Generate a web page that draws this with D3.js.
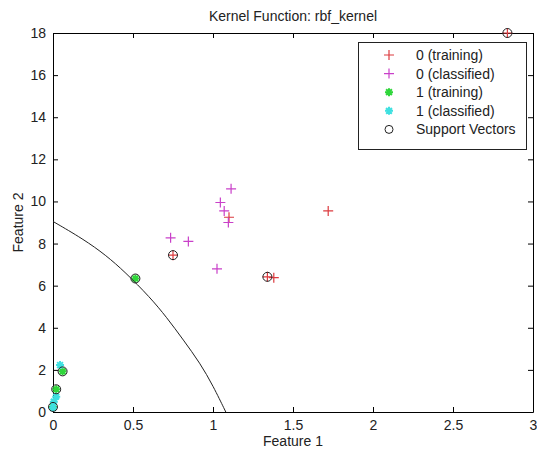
<!DOCTYPE html>
<html>
<head>
<meta charset="utf-8">
<script src="https://cdn.jsdelivr.net/npm/d3@7"></script>
<style>
  body { margin: 0; background: #fff; }
  svg { font-family: "Liberation Sans", Arial, sans-serif; }
</style>
</head>
<body>
<div id="root"></div>
<script>
// Data
const xTicks = [0, 0.5, 1, 1.5, 2, 2.5, 3];
const yTicks = [0, 2, 4, 6, 8, 10, 12, 14, 16, 18];

// group 0, training points (red +)
const train0 = [[2.84, 18.0], [1.72, 9.55], [0.75, 7.45], [1.34, 6.42], [1.38, 6.38], [1.1, 9.25]];
// group 0, classified points (magenta +)
const class0 = [[1.113, 10.6], [1.046, 9.95], [1.07, 9.55], [1.096, 9.0], [0.735, 8.27], [0.846, 8.1], [1.025, 6.8]];
// group 1, training points (green *)
const train1 = [[0.515, 6.34], [0.06, 1.93], [0.02, 1.08], [0.0, 0.24]];
// group 1, classified points (cyan *)
const class1 = [[0.044, 2.23], [0.02, 0.73], [0.005, 0.49], [0.0, 0.2]];
// support vectors (black o)
const supportVectors = [[2.84, 18.0], [0.75, 7.45], [1.34, 6.42], [0.515, 6.34], [0.06, 1.93], [0.02, 1.08], [0.0, 0.24]];
// decision boundary
const boundary = [[0.0, 9.05], [0.19, 8.21], [0.33, 7.45], [0.45, 6.65], [0.606, 5.45],
  [0.71, 4.5], [0.815, 3.42], [0.92, 2.31], [1.0, 1.25], [1.08, 0.0]];

const legendItems = [
  { label: '0 (training)', type: 'plus', color: '#dc3b3f' },
  { label: '0 (classified)', type: 'plus', color: '#c940c9' },
  { label: '1 (training)', type: 'star', color: '#2fd63a' },
  { label: '1 (classified)', type: 'star', color: '#3fe0e0' },
  { label: 'Support Vectors', type: 'circle', color: '#222' }
];

const width = 537, height = 455;
const margin = { left: 53, right: 4, top: 33, bottom: 43 };

const svg = d3.select('#root').append('svg')
  .attr('width', width)
  .attr('height', height)
  .attr('viewBox', [0, 0, width, height]);

const x = d3.scaleLinear().domain([0, 3]).range([margin.left, width - margin.right]);
const y = d3.scaleLinear().domain([0, 18]).range([height - margin.bottom, margin.top]);

// axes, with the ticks inside the box on all four sides
function drawAxes() {
  const tickSize = 5;
  const bottom = svg.append('g').attr('transform', `translate(0,${y(0)})`)
    .call(d3.axisBottom(x).tickValues(xTicks).tickSizeInner(-tickSize).tickSizeOuter(0).tickPadding(8).tickFormat(d3.format('')));
  const left = svg.append('g').attr('transform', `translate(${x(0)},0)`)
    .call(d3.axisLeft(y).tickValues(yTicks).tickSizeInner(-tickSize).tickSizeOuter(0).tickPadding(7));
  const top = svg.append('g').attr('transform', `translate(0,${y(18)})`)
    .call(d3.axisTop(x).tickValues(xTicks).tickSizeInner(-tickSize).tickSizeOuter(0).tickFormat(''));
  const right = svg.append('g').attr('transform', `translate(${x(3)},0)`)
    .call(d3.axisRight(y).tickValues(yTicks).tickSizeInner(-tickSize).tickSizeOuter(0).tickFormat(''));

  [bottom, left, top, right].forEach(function(g) {
    g.selectAll('path, line').attr('stroke', '#000');
    g.selectAll('text').attr('fill', '#222').attr('font-size', 14)
      .attr('font-family', '"Liberation Sans", Arial, sans-serif');
  });

  svg.append('text')
    .attr('x', (x(0) + x(3)) / 2).attr('y', 21)
    .attr('text-anchor', 'middle').attr('font-size', 14).attr('fill', '#222')
    .text('Kernel Function: rbf_kernel');
  svg.append('text')
    .attr('x', (x(0) + x(3)) / 2).attr('y', 446)
    .attr('text-anchor', 'middle').attr('font-size', 14).attr('fill', '#222')
    .text('Feature 1');
  svg.append('text')
    .attr('transform', `translate(23,${(y(0) + y(18)) / 2}) rotate(-90)`)
    .attr('text-anchor', 'middle').attr('font-size', 14).attr('fill', '#222')
    .text('Feature 2');
}

// marker shapes as paths centred on 0,0
function plusPath(s) {
  return `M${-s},0H${s}M0,${-s}V${s}`;
}
function starPath(s) {
  const d = s * 0.72;
  return plusPath(s) + `M${-d},${-d}L${d},${d}M${-d},${d}L${d},${-d}`;
}

function drawMarkers(data, type, color) {
  const g = svg.append('g');
  if (type === 'circle') {
    g.selectAll('circle').data(data).join('circle')
      .attr('cx', d => x(d[0])).attr('cy', d => y(d[1])).attr('r', 4.5)
      .attr('fill', 'none').attr('stroke', color).attr('stroke-width', 1);
  } else {
    g.selectAll('path').data(data).join('path')
      .attr('transform', d => `translate(${x(d[0])},${y(d[1])})`)
      .attr('d', type === 'plus' ? plusPath(5) : starPath(4))
      .attr('fill', 'none').attr('stroke', color)
      .attr('stroke-width', type === 'plus' ? 1.2 : 2);
  }
}

function drawBoundary() {
  const line = d3.line().x(d => x(d[0])).y(d => y(d[1])).curve(d3.curveBasis);
  svg.append('path').datum(boundary)
    .attr('d', line)
    .attr('fill', 'none').attr('stroke', '#222').attr('stroke-width', 1);
}

function drawLegend() {
  const g = svg.append('g');
  g.append('rect')
    .attr('x', 358.5).attr('y', 42.5).attr('width', 168).attr('height', 107)
    .attr('fill', '#fff').attr('stroke', '#222').attr('stroke-width', 1);
  legendItems.forEach(function(item, i) {
    const cy = 55 + i * 18.6;
    if (item.type === 'circle') {
      g.append('circle').attr('cx', 389).attr('cy', cy).attr('r', 4)
        .attr('fill', 'none').attr('stroke', item.color);
    } else {
      g.append('path').attr('transform', `translate(389,${cy})`)
        .attr('d', item.type === 'plus' ? plusPath(5) : starPath(4))
        .attr('fill', 'none').attr('stroke', item.color)
        .attr('stroke-width', item.type === 'plus' ? 1.2 : 2);
    }
    g.append('text').attr('x', 416).attr('y', cy + 5)
      .attr('font-size', 14).attr('fill', '#222').text(item.label);
  });
}

drawAxes();
drawMarkers(train0, 'plus', legendItems[0].color);
drawMarkers(class0, 'plus', legendItems[1].color);
drawMarkers(train1, 'star', legendItems[2].color);
drawMarkers(class1, 'star', legendItems[3].color);
drawMarkers(supportVectors, 'circle', '#222');
drawBoundary();
drawLegend();
</script>
</body>
</html>
